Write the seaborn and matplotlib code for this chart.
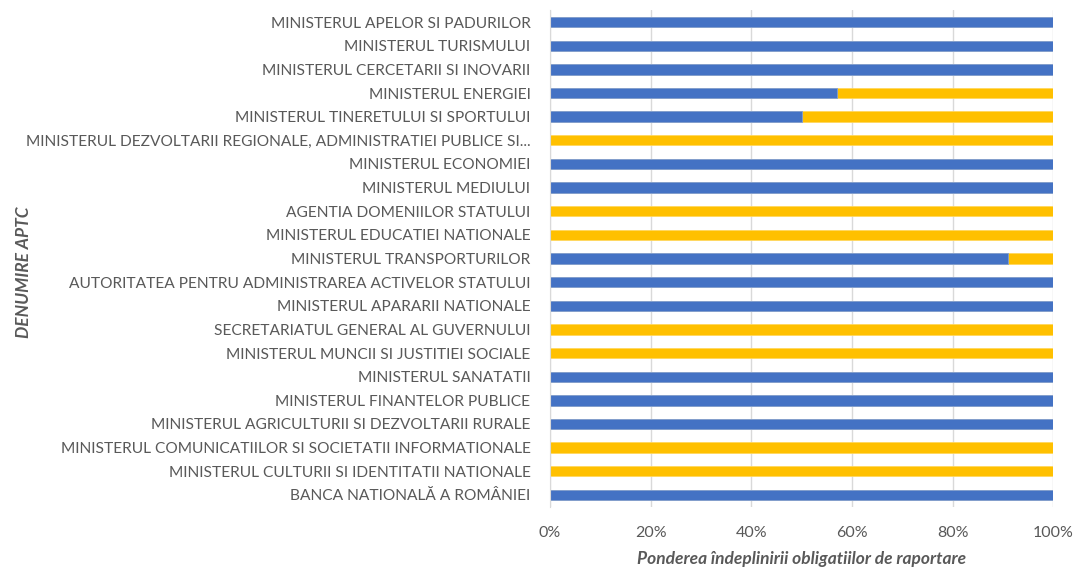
import matplotlib
matplotlib.use("Agg")
import matplotlib.pyplot as plt
import matplotlib.ticker as mticker
import pandas as pd
import seaborn as sns

institutii = [
    "MINISTERUL APELOR SI PADURILOR",
    "MINISTERUL TURISMULUI",
    "MINISTERUL CERCETARII SI INOVARII",
    "MINISTERUL ENERGIEI",
    "MINISTERUL TINERETULUI SI SPORTULUI",
    "MINISTERUL DEZVOLTARII REGIONALE, ADMINISTRATIEI PUBLICE SI...",
    "MINISTERUL ECONOMIEI",
    "MINISTERUL MEDIULUI",
    "AGENTIA DOMENIILOR STATULUI",
    "MINISTERUL EDUCATIEI NATIONALE",
    "MINISTERUL TRANSPORTURILOR",
    "AUTORITATEA PENTRU ADMINISTRAREA ACTIVELOR STATULUI",
    "MINISTERUL APARARII NATIONALE",
    "SECRETARIATUL GENERAL AL GUVERNULUI",
    "MINISTERUL MUNCII SI JUSTITIEI SOCIALE",
    "MINISTERUL SANATATII",
    "MINISTERUL FINANTELOR PUBLICE",
    "MINISTERUL AGRICULTURII SI DEZVOLTARII RURALE",
    "MINISTERUL COMUNICATIILOR SI SOCIETATII INFORMATIONALE",
    "MINISTERUL CULTURII SI IDENTITATII NATIONALE",
    "BANCA NATIONALĂ A ROMÂNIEI",
]
# ponderea indeplinita (albastru), restul pana la 100% (galben)
indeplinit = [100, 100, 100, 57, 50, 0, 100, 100, 0, 0, 91,
              100, 100, 0, 0, 100, 100, 100, 0, 0, 100]
neindeplinit = [100 - v for v in indeplinit]

df = pd.DataFrame({"institutie": institutii,
                   "indeplinit": indeplinit,
                   "neindeplinit": neindeplinit})
df["total"] = df["indeplinit"] + df["neindeplinit"]

sns.set_style("white")
plt.rcParams["font.family"] = ["Lato", "DejaVu Sans"]

gri = "#595959"
albastru = "#4472C4"
galben = "#FFC000"

fig = plt.figure(figsize=(10.76, 5.70), dpi=100)
ax = fig.add_axes([0.511, 0.111, 0.468, 0.871])

# bara totala (galben) si peste ea partea indeplinita (albastru)
sns.barplot(data=df, y="institutie", x="total", color=galben, orient="h",
            width=0.44, edgecolor="#FFD75E", linewidth=0.6, ax=ax,
            saturation=1)
sns.barplot(data=df, y="institutie", x="indeplinit", color=albastru, orient="h",
            width=0.44, edgecolor="#7F9FD8", linewidth=0.6, ax=ax,
            saturation=1)

ax.set_xlim(0, 100)
ax.xaxis.set_major_locator(mticker.MultipleLocator(20))
ax.xaxis.set_major_formatter(mticker.FuncFormatter(lambda v, p: f"{v:.0f}%"))
ax.grid(axis="x", color="#D9D9D9", linewidth=1.0)
ax.set_axisbelow(True)

[ax.spines[s].set_visible(False) for s in ["top", "right", "bottom"]]
ax.spines["left"].set_color("#D9D9D9")

ax.tick_params(axis="y", length=0, pad=14, labelsize=11.2, labelcolor=gri)
ax.tick_params(axis="x", length=0, pad=14, labelsize=11.5, labelcolor=gri)

ax.set_xlabel("Ponderea îndeplinirii obligatiilor de raportare",
              fontsize=12.5, fontstyle="italic", fontweight="bold", color=gri,
              labelpad=8)
ax.set_ylabel("")
fig.text(0.022, 0.523, "DENUMIRE APTC", rotation=90, ha="center", va="center",
         fontsize=12.5, fontstyle="italic", fontweight="bold", color=gri)

plt.savefig("out.png", dpi=100)
